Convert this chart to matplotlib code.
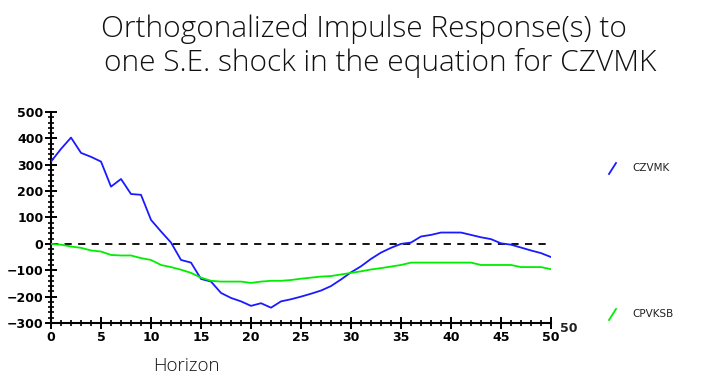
import matplotlib
matplotlib.use("Agg")
import matplotlib.pyplot as plt
from matplotlib.ticker import MultipleLocator
from matplotlib.lines import Line2D

horizon = list(range(0, 51))

czvmk = [312, 360, 403, 345, 330, 312, 217, 246, 189, 186,
         91, 47, 5, -61, -71, -133, -143, -186, -205, -218,
         -235, -225, -242, -218, -210, -200, -189, -177, -160, -135,
         -108, -85, -57, -33, -15, 0, 5, 28, 34, 43,
         43, 43, 34, 25, 18, 2, -3, -14, -25, -35, -50]

cpvksb = [0, -3, -10, -15, -25, -29, -42, -44, -44, -54,
          -61, -80, -88, -98, -110, -128, -140, -143, -143, -143,
          -148, -143, -140, -140, -137, -132, -128, -124, -122, -116,
          -110, -104, -97, -92, -86, -80, -71, -71, -71, -71,
          -71, -71, -71, -80, -80, -80, -80, -88, -88, -88, -96]

series_names = ["CZVMK", "CPVKSB"]
series_colors = ["#1a1aff", "#00ee00"]
title_lines = ["Orthogonalized Impulse Response(s) to",
               "one S.E. shock in the equation for CZVMK"]
xticks = list(range(0, 51, 5))
yticks = list(range(-300, 501, 100))

fig = plt.figure(figsize=(7.02, 3.87), dpi=100)
ax = fig.add_axes([51 / 702, 64 / 387, 500 / 702, 211 / 387])

ax.plot(horizon, czvmk, color=series_colors[0], lw=1.3, zorder=3)
ax.plot(horizon, cpvksb, color=series_colors[1], lw=1.3, zorder=3)
ax.plot([horizon[0], horizon[-1]], [0, 0], color="black", lw=1.3,
        dashes=(4, 3.5), zorder=2)

ax.set_xlim(0, 50)
ax.set_ylim(-300, 500)
ax.set_xticks(xticks)
ax.set_yticks(yticks)
ax.xaxis.set_minor_locator(MultipleLocator(1))
ax.yaxis.set_minor_locator(MultipleLocator(20))
for s in ["top", "right"]:
    ax.spines[s].set_visible(False)
for s in ["left", "bottom"]:
    ax.spines[s].set_linewidth(1.5)
ax.tick_params(which="major", direction="inout", length=9, width=1.4,
               labelsize=9, pad=1)
ax.tick_params(which="minor", direction="inout", length=5, width=1.2)
for lab in ax.get_xticklabels() + ax.get_yticklabels():
    lab.set_fontweight("bold")
ax.set_facecolor("white")

title_font = dict(fontsize=21.5, family="Open Sans", fontweight="light",
                  color="#111111", ha="center", va="center")
fig.text(364 / 702, 1 - 29 / 387, title_lines[0], **title_font)
fig.text(380 / 702, 1 - 63 / 387, title_lines[1], **title_font)
fig.text(186 / 702, 1 - 366 / 387, "Horizon", ha="center", va="center",
         fontsize=13.5, family="Open Sans", fontweight="light", color="#111111")
fig.text(560 / 702, 1 - 328 / 387, "50", ha="left", va="center",
         fontsize=9, fontweight="bold", color="#222222")

# legend entries on the right side
legend_y = [168, 314]
for name, color, yy in zip(series_names, series_colors, legend_y):
    fy = 1 - yy / 387
    fig.add_artist(Line2D([609 / 702, 616 / 702], [fy - 6 / 387, fy + 5 / 387],
                          color=color, lw=1.3, transform=fig.transFigure))
    fig.text(632 / 702, fy, name, ha="left", va="center", fontsize=7.5,
             color="#222222")

fig.savefig("out.png", dpi=100, facecolor="white")
